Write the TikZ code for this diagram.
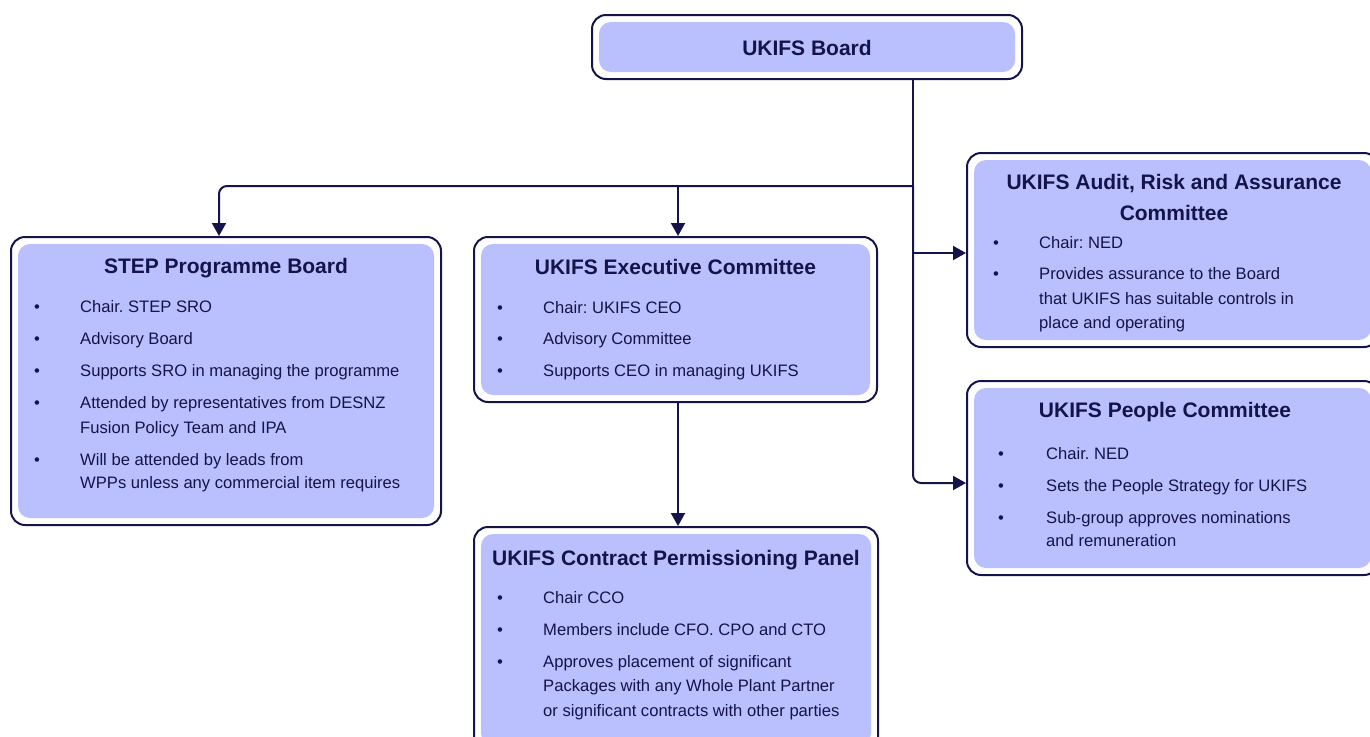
\documentclass[tikz,border=0pt]{standalone}
\usepackage{fontspec}
\setmainfont{Liberation Sans}
\usetikzlibrary{arrows.meta}
\definecolor{navy}{HTML}{14144A}
\definecolor{lav}{HTML}{BAC0FD}
\frenchspacing
\newcommand\orgbox[5]{%
  \node[outerbox, minimum width={#4-#2}, minimum height={#5-#3}] (#1) at ({(#2+#4)/2},{(#3+#5)/2}) {};
  \node[innerbox, minimum width={#4-#2-14}, minimum height={#5-#3-14}] (#1-in) at (#1.center) {};
}
\newcommand\bitem[5]{%
  \node[body] (#1b) at (#2,#4) {•};
  \node[body] (#1) at (#3,#4) {#5};
}
\begin{document}
\begin{tikzpicture}[x=1pt,y=-1pt,
  outerbox/.style={draw=navy, line width=2pt, fill=white, rounded corners=14pt, inner sep=0pt},
  innerbox/.style={fill=lav, rounded corners=12pt, inner sep=0pt},
  title/.style={font=\fontsize{21}{25}\selectfont\bfseries, text=navy, inner sep=0pt, anchor=base},
  body/.style={font=\fontsize{16.6}{24}\selectfont, text=navy, inner sep=0pt, anchor=base west},
  conn/.style={draw=navy, line width=2pt},
  arr/.style={conn, -{Triangle[length=13pt,width=14pt]}}]
\useasboundingbox (0,0) rectangle (1370,736);

% boxes
\orgbox{board}{592}{15}{1022}{79}
\orgbox{step}{11}{237}{441}{525}
\orgbox{exec}{474}{237}{877}{402}
\orgbox{contract}{474}{527}{878}{752}
\orgbox{audit}{967}{153}{1378}{347}
\orgbox{people}{967}{381}{1378}{575}

% titles
\node[title] (tboard) at (807,55.5) {UKIFS Board};
\node[title] (tstep) at (226,273.5) {STEP Programme Board};
\node[title] (texec) at (675.5,274.5) {UKIFS Executive Committee};
\node[title] (taudit1) at (1174,189.5) {UKIFS Audit, Risk and Assurance};
\node[title] (taudit2) at (1174,220.5) {Committee};
\node[title] (tpeople) at (1165,417.5) {UKIFS People Committee};
\node[title] (tcontract) at (676,565.5) {UKIFS Contract Permissioning Panel};

% STEP items
\bitem{s1}{34}{80}{312}{Chair. STEP SRO}
\bitem{s2}{34}{80}{344}{Advisory Board}
\bitem{s3}{34}{80}{376}{Supports SRO in managing the programme}
\bitem{s4}{34}{80}{408}{Attended by representatives from DESNZ}
\node[body] (s4x) at (80,433) {Fusion Policy Team and IPA};
\bitem{s5}{34}{80}{465}{Will be attended by leads from}
\node[body] (s5x) at (80,488) {WPPs unless any commercial item requires};

% Exec items
\bitem{e1}{497}{543}{313}{Chair: UKIFS CEO}
\bitem{e2}{497}{543}{344}{Advisory Committee}
\bitem{e3}{497}{543}{376}{Supports CEO in managing UKIFS}

% Audit items
\bitem{a1}{993}{1039}{248}{Chair: NED}
\bitem{a2}{993}{1039}{279}{Provides assurance to the Board}
\node[body] (a2x) at (1039,304) {that UKIFS has suitable controls in};
\node[body] (a2y) at (1039,328) {place and operating};

% People items
\bitem{p1}{998}{1046}{459}{Chair. NED}
\bitem{p2}{998}{1046}{491}{Sets the People Strategy for UKIFS}
\bitem{p3}{998}{1046}{523}{Sub-group approves nominations}
\node[body] (p3x) at (1046,546) {and remuneration};

% Contract items
\bitem{c1}{497}{543}{603}{Chair CCO}
\bitem{c2}{497}{543}{635}{Members include CFO. CPO and CTO}
\bitem{c3}{497}{543}{667}{Approves placement of significant}
\node[body] (c3x) at (543,691) {Packages with any Whole Plant Partner};
\node[body] (c3y) at (543,716) {or significant contracts with other parties};

% connectors
\coordinate (j1) at (913,186);
\coordinate (j2) at (678,186);
\coordinate (j3) at (913,253);
\coordinate (j4) at (913,483);
\coordinate (j5) at (219,186);
\draw[conn] (board.south -| j1) -- (j1);
\draw[arr, rounded corners=8pt] (j1) -| (step.north -| j5);
\draw[arr] (j2) -- (exec.north -| j2);
\draw[arr] (j3) -- (audit.west |- j3);
\draw[arr, rounded corners=8pt] (j1) |- (people.west |- j4);
\draw[arr] (exec.south -| j2) -- (contract.north -| j2);
\end{tikzpicture}
\end{document}
